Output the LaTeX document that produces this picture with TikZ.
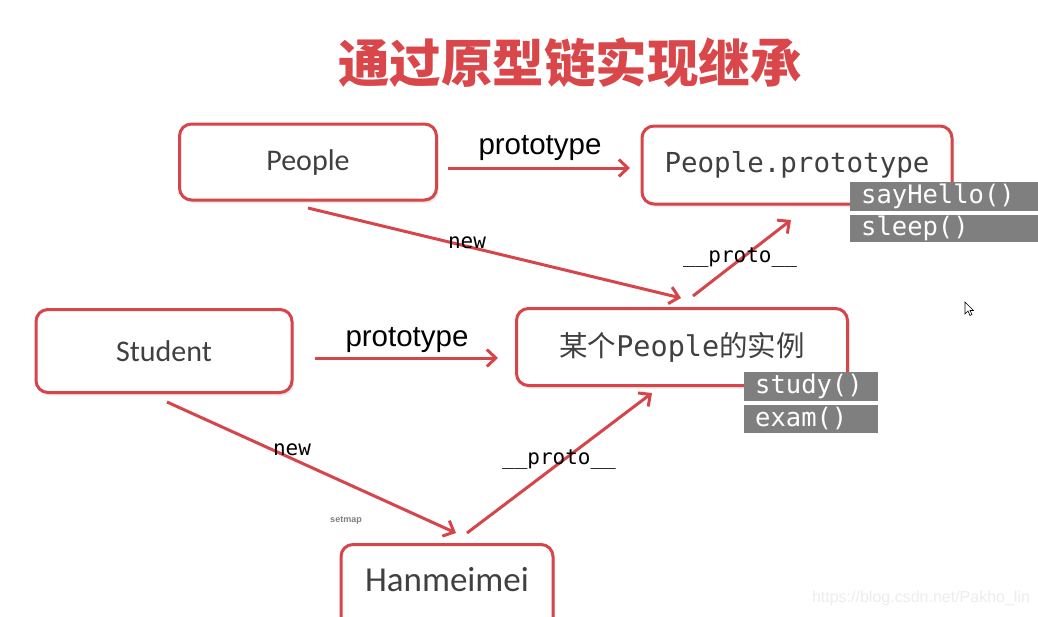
\documentclass[tikz,border=0pt]{standalone}
\usepackage{fontspec}
\setmainfont{Carlito}
\newfontfamily\cjk{Noto Sans CJK SC}
\newfontfamily\monof{DejaVu Sans Mono}
\newfontfamily\arialf{Liberation Sans}
\usetikzlibrary{arrows.meta,shadows}
\definecolor{boxred}{HTML}{D6454A}
\definecolor{titlered}{HTML}{D9474B}
\definecolor{txtgray}{HTML}{404040}
\definecolor{methgray}{HTML}{7F7F7F}
\tikzset{
  objbox/.style={draw=boxred, line width=3pt, rounded corners=12pt, fill=white,
    text=txtgray, inner sep=0pt,
    drop shadow={opacity=0.18, shadow xshift=2pt, shadow yshift=-3pt}},
  methbox/.style={fill=methgray, text=white, inner ysep=0pt, inner xsep=11pt, anchor=west,
    align=left, font=\monof\fontsize{25.5}{27}\selectfont, text height=18pt, text depth=4pt,
    minimum height=29pt},
  link/.style={draw=boxred, line width=3pt, -{Straight Barb[length=9pt,width=17pt,line width=3pt]}},
  protolbl/.style={font=\arialf\fontsize{29.5}{31}\selectfont, text=black},
  monolbl/.style={font=\monof\fontsize{21}{23}\selectfont, text=black},
}
\begin{document}
\begin{tikzpicture}[x=1pt,y=-1pt]
\clip (0,0) rectangle (1038,616);
\fill[white] (0,0) rectangle (1038,616);

% title
\node (title) at (570,63) {\cjk\bfseries\color{titlered}\fontsize{51.5}{56}\selectfont 通过原型链实现继承};

% boxes
\node[objbox, minimum width=257pt, minimum height=76pt, font=\fontsize{30}{32}\selectfont] (people) at (308,162) {People};
\node[objbox, minimum width=310pt, minimum height=78pt, font=\monof\fontsize{27.5}{29}\selectfont] (proto) at (797,165) {People.prototype};
\node[objbox, minimum width=256pt, minimum height=83pt, font=\fontsize{30}{32}\selectfont] (student) at (164,351) {Student};
\node[objbox, minimum width=331pt, minimum height=77pt, font=\fontsize{28.5}{30}\selectfont] (inst) at (682,347) {\cjk 某个{\monof People}的实例};
\node[objbox, minimum width=212pt, minimum height=95pt] (han) at (447,592) {};
\node[font=\fontsize{35}{37}\selectfont, text=txtgray] (hantext) at (447,580) {Hanmeimei};

% method boxes
\node[methbox, text width=168pt] (sayhello) at (850,196.5) {sayHello()};
\node[methbox, text width=168pt, minimum height=27pt] (sleep) at (850,228.5) {sleep()};
\node[methbox, text width=112pt] (study) at (744,386.5) {study()};
\node[methbox, text width=112pt, minimum height=28pt] (exam) at (744,419) {exam()};

% connector end points
\coordinate (p1) at (448,168); \coordinate (p2) at (630,168);
\coordinate (s1) at (315,358); \coordinate (s2) at (498,358);
\coordinate (n1) at (308,208); \coordinate (n2) at (681,298);
\coordinate (m1) at (167,402); \coordinate (m2) at (456,533);
\coordinate (h1) at (467,533); \coordinate (h2) at (652,393);
\coordinate (i1) at (693,296); \coordinate (i2) at (791,220);

\draw[link] (p1) -- (p2);
\draw[link] (s1) -- (s2);
\draw[link] (n1) -- (n2);
\draw[link] (m1) -- (m2);
\draw[link] (h1) -- (h2);
\draw[link] (i1) -- (i2);

% labels
\node[protolbl] (lp1) at (540,148) {prototype};
\node[protolbl] (lp2) at (407,340) {prototype};
\node[monolbl] (ln1) at (467,243) {new};
\node[monolbl] (ln2) at (292,450) {new};
\node[monolbl] (lh) at (559,460) {\_\_proto\_\_};
\node[monolbl] (li) at (740,258) {\_\_proto\_\_};

\node[font=\arialf\bfseries\fontsize{9}{10}\selectfont, text=gray] (setmap) at (346,520) {setmap};

% cursor
\draw[line width=0.6pt, fill=white] (965,302) -- (965,314) -- (968,311) -- (970,315.5) -- (972,314.5) -- (970,310.5) -- (973.5,310.5) -- cycle;

% watermark
\node[font=\arialf\fontsize{16}{18}\selectfont, text=black!7] (wm) at (921,598) {https://blog.csdn.net/Pakho\_lin};
\end{tikzpicture}
\end{document}
